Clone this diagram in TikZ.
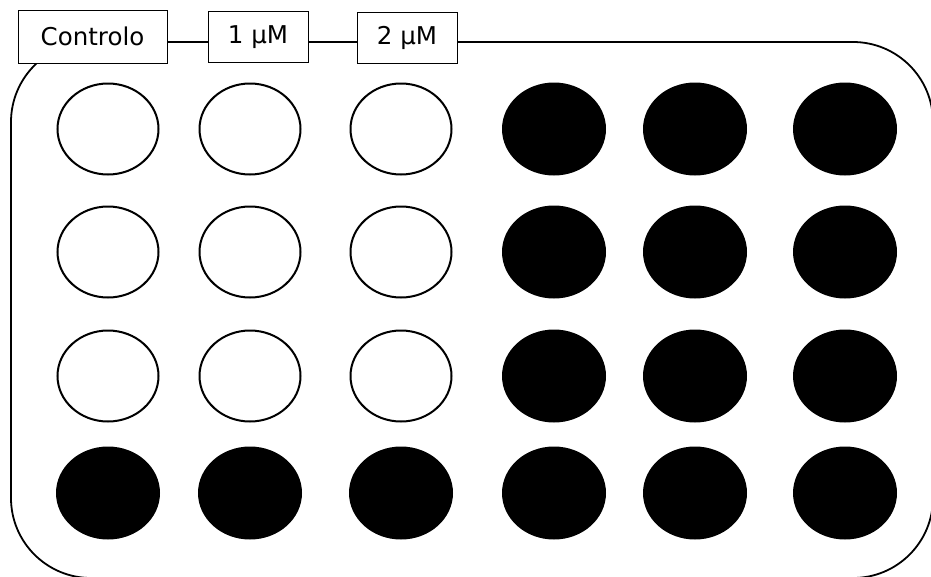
\documentclass[tikz,border=0pt]{standalone}
\usepackage{fontspec}
\setmainfont{DejaVu Sans}
\usetikzlibrary{shapes.geometric, positioning}

\begin{document}
\begin{tikzpicture}[x=1pt, y=-1pt,
    wellempty/.style={ellipse, draw, line width=2pt, minimum width=101pt, minimum height=91pt, inner sep=0pt},
    wellfull/.style={ellipse, fill=black, minimum width=104pt, minimum height=93pt, inner sep=0pt},
    tag/.style={draw, line width=0.8pt, fill=white, minimum height=51pt, inner sep=0pt,
        font=\fontsize{24.5}{29}\selectfont}]

    \useasboundingbox (0,0) rectangle (931,576);

    % ==========================================
    % PLATE OUTLINE
    % ==========================================
    \draw[line width=1.8pt, rounded corners=80pt] (11,42) rectangle (933,578);

    % ==========================================
    % WELLS: empty (rows 1-3, cols 1-3), the rest filled
    % ==========================================
    \foreach \r/\y in {1/129, 2/252, 3/376}
        \foreach \c/\x in {1/108, 2/250, 3/401}
            \node[wellempty] (w\r\c) at (\x,\y) {};

    \foreach \c/\x in {1/108, 2/250, 3/401}
        \node[wellfull] (w4\c) at (\x,493) {};

    \foreach \r/\y in {1/129, 2/252, 3/376, 4/493}
        \foreach \c/\x in {4/554, 5/695, 6/845}
            \node[wellfull] (w\r\c) at (\x,\y) {};

    % ==========================================
    % COLUMN LABELS (sit on the top edge)
    % ==========================================
    \node[tag, minimum width=149pt, minimum height=53pt] (ctrl) at (92.5,36.5) {Controlo};
    \node[tag, minimum width=100pt] (dose1) at (258,37) {1 µM};
    \node[tag, minimum width=100pt] (dose2) at (407,38) {2 µM};

\end{tikzpicture}
\end{document}
